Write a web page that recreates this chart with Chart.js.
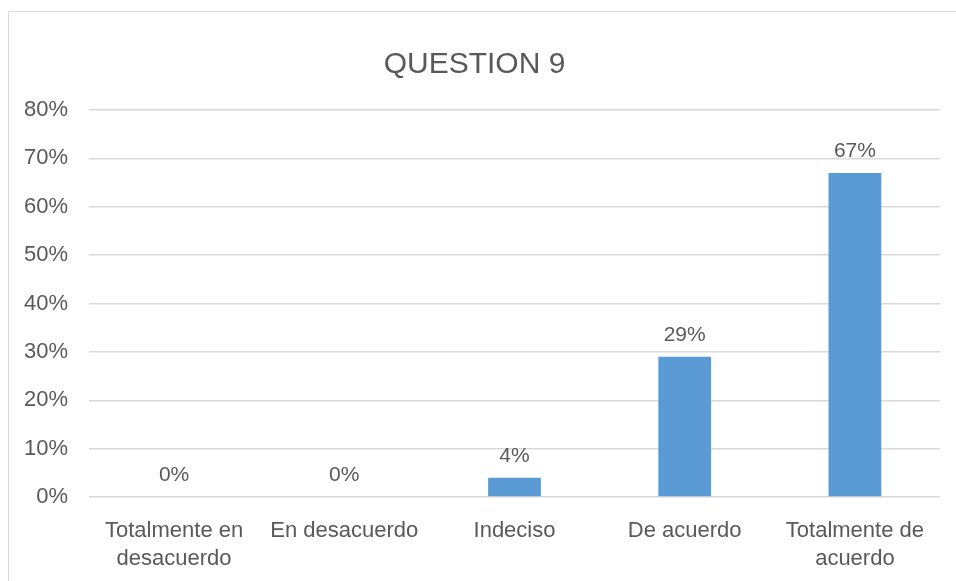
<!DOCTYPE html>
<html>
<head>
<meta charset="utf-8">
<script src="https://cdn.jsdelivr.net/npm/chart.js@4"></script>
<style>
  body { margin: 0; background: #fff; overflow: hidden; }
  #frame { position: absolute; left: 8px; top: 11px; width: 966px; height: 600px; border: 1px solid #d9d9d9; }
</style>
</head>
<body>
<div id="frame"><canvas id="chart" width="966" height="600"></canvas></div>
<script>
const categories = [
  ["Totalmente en", "desacuerdo"],
  "En desacuerdo",
  "Indeciso",
  "De acuerdo",
  ["Totalmente de", "acuerdo"]
];
const percentValues = [0, 0, 4, 29, 67];
const yTicks = [0, 10, 20, 30, 40, 50, 60, 70, 80];

const textColor = "#595959";
const fontFamily = "'Liberation Sans', Arial, sans-serif";

// labels drawn above each bar
const barLabels = {
  id: "barLabels",
  afterDatasetsDraw(chart) {
    const ctx = chart.ctx;
    const meta = chart.getDatasetMeta(0);
    ctx.save();
    ctx.fillStyle = textColor;
    ctx.font = "21px " + fontFamily;
    ctx.textAlign = "center";
    ctx.textBaseline = "alphabetic";
    meta.data.forEach((bar, i) => {
      ctx.fillText(percentValues[i] + "%", bar.x, bar.y - 16);
    });
    ctx.restore();
  }
};

new Chart(document.getElementById("chart"), {
  type: "bar",
  data: {
    labels: categories,
    datasets: [{
      data: percentValues,
      backgroundColor: "#5b9bd5",
      categoryPercentage: 1,
      barPercentage: 0.31
    }]
  },
  plugins: [barLabels],
  options: {
    responsive: false,
    animation: false,
    layout: { padding: { left: 0, right: 35, top: 0, bottom: 27 } },
    plugins: {
      legend: { display: false },
      tooltip: { enabled: false },
      title: {
        display: true,
        text: "QUESTION 9",
        color: textColor,
        font: { family: fontFamily, size: 30, weight: "normal" },
        padding: { top: 35, bottom: 27 }
      }
    },
    scales: {
      x: {
        grid: { display: false },
        border: { display: false },
        ticks: {
          color: textColor,
          font: { family: fontFamily, size: 22, lineHeight: 1.27 },
          maxRotation: 0,
          autoSkip: false,
          padding: 12
        }
      },
      y: {
        min: yTicks[0],
        max: yTicks[yTicks.length - 1],
        afterFit(scale) { scale.width = 80; },
        afterBuildTicks(scale) { scale.ticks = yTicks.map(v => ({ value: v })); },
        grid: { color: "#d9d9d9", lineWidth: 1.5, drawTicks: false },
        border: { display: false },
        ticks: {
          color: textColor,
          font: { family: fontFamily, size: 22 },
          padding: 21,
          callback: v => v + "%"
        }
      }
    }
  }
});
</script>
</body>
</html>
